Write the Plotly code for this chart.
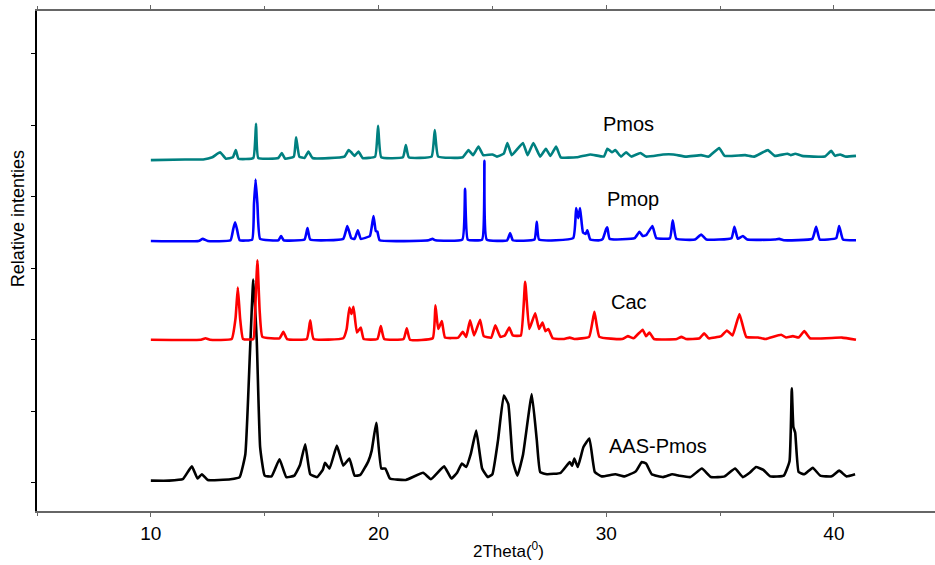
import plotly.graph_objects as go

# ---- data (2Theta in degrees, relative intensity as plotted, stacked) ----
aas_x = [10.0, 10.8, 11.4, 11.8, 12.05, 12.24, 12.5, 13.5, 13.9, 14.15, 14.35, 14.5, 14.65, 14.8, 15.0,
         15.3, 15.65, 15.95, 16.3, 16.55, 16.78, 17.0, 17.3, 17.55, 17.65, 17.85, 18.17, 18.45, 18.72,
         18.95, 19.2, 19.55, 19.7, 19.9, 20.12, 20.3, 20.5, 21.2, 21.96, 22.3, 22.88, 23.2, 23.45, 23.66,
         23.85, 24.05, 24.29, 24.55, 24.8, 25.0, 25.25, 25.5, 25.7, 25.9, 26.1, 26.35, 26.73, 26.95, 27.1,
         27.4, 28.0, 28.4, 28.5, 28.6, 28.75, 29.0, 29.26, 29.5, 29.8, 30.4, 30.8, 31.3, 31.56, 31.75,
         32.0, 32.5, 32.9, 33.2, 33.7, 34.2, 34.6, 35.2, 35.66, 36.0, 36.3, 36.58, 36.9, 37.2, 37.8,
         38.05, 38.15, 38.22, 38.3, 38.45, 38.7, 39.07, 39.4, 39.9, 40.23, 40.55, 40.93]
aas_y = [3, 3, 5, 23, 6, 12, 4, 5, 8, 40, 180, 284, 200, 50, 10,
         9, 33, 8, 10, 25, 54, 12, 8, 18, 28, 20, 52, 24, 34,
         10, 11, 30, 45, 84, 20, 20, 6, 4, 14, 5, 23, 6, 14, 27,
         22, 40, 73, 20, 8, 12, 60, 122, 110, 30, 10, 40, 124, 60, 15,
         12, 14, 29, 24, 34, 22, 50, 62, 15, 9, 12, 9, 16, 29, 27,
         12, 8, 12, 10, 8, 20, 8, 9, 20, 8, 14, 22, 18, 9, 10,
         30, 132, 78, 70, 15, 12, 21, 10, 9, 17, 9, 12]

cac_x = [10.0, 12.2, 12.4, 12.6, 13.55, 13.72, 13.82, 13.92, 14.05, 14.5, 14.58, 14.68, 14.78, 14.9,
         15.65, 15.82, 15.98, 16.85, 17.0, 17.15, 18.45, 18.6, 18.72, 18.81, 18.9, 19.05, 19.22, 19.35,
         19.95, 20.1, 20.25, 21.1, 21.24, 21.38, 22.38, 22.5, 22.62, 22.78, 22.92, 23.5, 23.7, 23.85,
         24.02, 24.2, 24.46, 24.62, 24.95, 25.13, 25.35, 25.55, 25.74, 25.9, 26.25, 26.44, 26.62, 26.88,
         27.05, 27.2, 27.33, 27.46, 27.65, 28.15, 28.4, 28.6, 29.25, 29.48, 29.7, 30.7, 30.95, 31.2,
         31.6, 31.75, 31.9, 32.1, 33.1, 33.3, 33.5, 34.1, 34.3, 34.5, 35.05, 35.3, 35.55, 35.85, 36.15,
         36.67, 37.0, 37.68, 37.9, 38.2, 38.45, 38.7, 38.95, 40.35, 40.97]
cac_y = [200, 200, 202, 200, 201, 230, 273, 230, 201, 201, 240, 311, 240, 204,
         202, 211, 201, 201, 227, 201, 202, 215, 245, 236, 246, 210, 217, 201,
         201, 219, 201, 201, 216, 200, 202, 248, 215, 226, 203, 203, 211, 204,
         227, 206, 228, 205, 203, 220, 204, 206, 217, 206, 206, 281, 215, 237,
         215, 224, 212, 215, 202, 201, 203, 201, 204, 239, 204, 201, 205, 202,
         214, 205, 210, 201, 201, 204, 201, 202, 209, 202, 205, 213, 206, 236, 204,
         203, 201, 207, 203, 205, 203, 212, 202, 203, 200]

pmop_x = [10.0, 12.1, 12.28, 12.5, 13.5, 13.62, 13.7, 13.78, 13.9, 14.45, 14.53, 14.6, 14.68, 14.8,
          15.6, 15.72, 15.84, 16.75, 16.88, 17.0, 18.45, 18.63, 18.8, 18.95, 19.09, 19.22, 19.62, 19.78,
          19.88, 19.95, 20.05, 22.2, 22.37, 22.5, 23.68, 23.8, 23.92, 24.55, 24.65, 24.75, 25.65, 25.78,
          25.9, 26.85, 26.95, 27.05, 28.55, 28.68, 28.77, 28.85, 28.98, 29.1, 29.17, 29.3, 29.7, 29.85,
          30.0, 30.05, 30.15, 31.25, 31.46, 31.6, 31.75, 32.03, 32.2, 32.8, 32.92, 33.08, 33.9, 34.17,
          34.4, 35.5, 35.63, 35.78, 36.0, 36.2, 37.4, 37.6, 37.8, 39.05, 39.22, 39.38, 40.1, 40.23,
          40.4, 40.97]
pmop_y = [338, 338, 341, 338, 339, 355, 364, 355, 339, 340, 390, 424, 390, 341,
          339, 345, 339, 340, 356, 340, 341, 359, 342, 341, 353, 341, 345, 373,
          352, 351, 339, 339, 341, 339, 340, 411, 340, 340, 450, 340, 339, 349,
          339, 340, 365, 340, 342, 384, 370, 384, 350, 348, 353, 340, 339, 341,
          355, 357, 341, 342, 351, 345, 346, 359, 342, 342, 367, 341, 340, 347,
          340, 342, 358, 341, 345, 340, 340, 341, 339, 341, 358, 340, 342, 359,
          340, 339]

pmos_x = [10.0, 11.5, 12.3, 12.7, 13.04, 13.3, 13.6, 13.73, 13.85, 14.5, 14.62, 14.72, 15.6, 15.75,
          15.9, 16.28, 16.38, 16.52, 16.75, 16.92, 17.1, 18.5, 18.68, 18.8, 18.95, 19.12, 19.3, 19.85,
          19.98, 20.12, 21.07, 21.2, 21.33, 22.33, 22.47, 22.62, 23.7, 23.95, 24.15, 24.39, 24.6, 25.0,
          25.2, 25.5, 25.66, 25.85, 26.34, 26.55, 26.8, 27.1, 27.35, 27.55, 27.8, 28.0, 28.7, 29.3,
          29.9, 30.05, 30.25, 30.4, 30.65, 30.87, 31.1, 31.5, 31.75, 32.5, 32.95, 33.5, 34.17, 34.5,
          34.96, 35.2, 36.1, 36.5, 37.1, 37.4, 37.96, 38.1, 38.3, 38.6, 39.6, 39.88, 40.05, 40.27,
          40.5, 40.97]
pmos_y = [451, 452, 452, 455, 462, 453, 455, 465, 453, 454, 502, 454, 454, 461,
          453, 456, 483, 456, 454, 463, 454, 456, 465, 462, 457, 463, 454, 456,
          499, 455, 455, 472, 455, 456, 493, 456, 455, 465, 458, 470, 458, 459,
          456, 460, 475, 458, 475, 458, 475, 456, 467, 457, 470, 455, 455, 459,
          456, 467, 462, 465, 456, 462, 456, 461, 456, 459, 459, 456, 458, 456,
          468, 457, 458, 456, 465, 457, 460, 458, 460, 457, 456, 464, 457, 459,
          456, 457]

series_names = ["AAS-Pmos", "Cac", "Pmop", "Pmos"]
series_colors = ["#000000", "#ff0000", "#0000ff", "#008080"]
label_x = [32.27, 31.0, 31.18, 30.96]
label_y = [52, 253, 397, 501]

y_ticks = [0, 100, 200, 300, 400, 500, 600]
x_ticks = [10, 20, 30, 40]

FONT = "Arial, Liberation Sans, sans-serif"

fig = go.Figure()
for xs, ys, name, col in zip([aas_x, cac_x, pmop_x, pmos_x], [aas_y, cac_y, pmop_y, pmos_y],
                             series_names, series_colors):
    fig.add_trace(go.Scatter(x=xs, y=ys, mode="lines", name=name,
                             line=dict(color=col, width=2.6, shape="spline", smoothing=0.35),
                             showlegend=False))

for name, lx, ly in zip(series_names, label_x, label_y):
    fig.add_annotation(x=lx, y=ly, xref="x", yref="y", text=name, showarrow=False,
                       font=dict(family=FONT, size=20, color="#000000"),
                       xanchor="center", yanchor="middle")

fig.add_annotation(x=-0.021, y=0.584, xref="paper", yref="paper", text="Relative intenties",
                   textangle=-90, showarrow=False, font=dict(family=FONT, size=18, color="#000000"),
                   xanchor="center", yanchor="middle")
fig.add_annotation(x=0.5245, y=-0.078, xref="paper", yref="paper", text="2Theta(<sup>0</sup>)",
                   showarrow=False, font=dict(family=FONT, size=17, color="#000000"),
                   xanchor="center", yanchor="middle")

fig.update_layout(
    width=935, height=565,
    margin=dict(l=37, r=0, t=11, b=54, autoexpand=False),
    paper_bgcolor="white", plot_bgcolor="white",
    font=dict(family=FONT, color="#000000"),
    xaxis=dict(range=[5, 44.44], tickvals=x_ticks, ticktext=[str(v) for v in x_ticks],
               showgrid=False, zeroline=False, showline=True, linecolor="#666666", linewidth=1.5,
               mirror="ticks", ticks="outside", ticklen=4, tickcolor="#666666",
               tickfont=dict(family=FONT, size=19, color="#000000"),
               minor=dict(tickvals=[5, 15, 25, 35], ticks="outside", ticklen=3, tickcolor="#666666")),
    yaxis=dict(range=[-39.4, 659.5], tickvals=y_ticks, showticklabels=False,
               showgrid=False, zeroline=False, showline=True, linecolor="#000000", linewidth=1.5,
               ticks="outside", ticklen=4, tickcolor="#000000"),
)

fig.write_html("out.html", config={"displayModeBar": False},
               post_script="document.body.style.margin='0';document.body.style.padding='0';"
                           "document.body.style.overflow='hidden';")
